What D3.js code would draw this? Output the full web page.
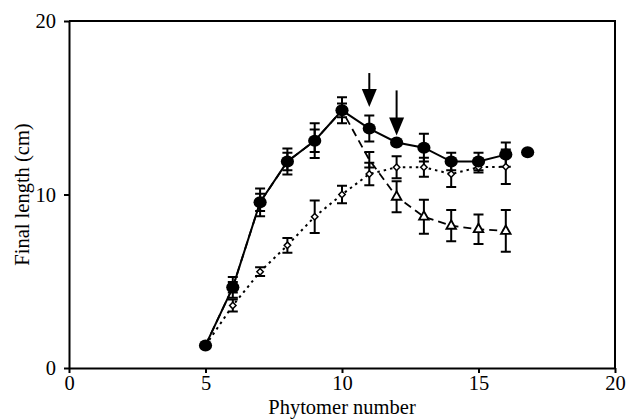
<!DOCTYPE html>
<html>
<head>
<meta charset="utf-8">
<script src="https://cdn.jsdelivr.net/npm/d3@7"></script>
<style>
  body { margin: 0; background: #fff; }
  text { font-family: "Liberation Serif", "Times New Roman", serif; }
</style>
</head>
<body>
<div id="chart"></div>
<script>
// Final length of each phytomer, three treatments with error bars.

// Data
const phytomer = [5, 6, 7, 8, 9, 10, 11, 12, 13, 14, 15, 16];
// filled circles, solid line
const circleLen = [1.3, 4.65, 9.55, 11.9, 13.1, 14.85, 13.8, 13.0, 12.7, 11.9, 11.9, 12.3];
const circleErr = [0, 0.6, 0.8, 0.75, 1.0, 0.75, 0.75, 0, 0.8, 0.5, 0.5, 0.7];
// open triangles, dashed line (same as circles up to 10)
const triangleLen = [1.3, 4.65, 9.55, 11.9, 13.1, 14.85, 12.0, 9.87, 8.72, 8.2, 8.0, 7.9];
const triangleErr = [0, 0.3, 0.5, 0.5, 0.65, 0.4, 0.45, 0.9, 0.98, 0.9, 0.85, 1.2];
// open diamonds, dotted line
const diamondLen = [1.3, 3.6, 5.55, 7.07, 8.72, 10.0, 11.18, 11.57, 11.57, 11.18, 11.57, 11.6];
const diamondErr = [0, 0.35, 0.25, 0.43, 0.94, 0.5, 0.65, 0.63, 0.55, 0.75, 0.3, 1.0];
// lone circle to the right of the series
const extraX = [16.8];
const extraY = [12.43];
// arrows
const arrowX = [11, 12];
const arrowTop = [17.0, 16.0];
const arrowTip = [15.05, 13.4];
// ticks
const xTicks = [0, 5, 10, 15, 20];
const yTicks = [0, 10, 20];

// Chart dimensions
const width = 628;
const height = 419;
const marginTop = 21;
const marginRight = 13;
const marginBottom = 51;
const marginLeft = 69;

const graph = d3.create("svg")
    .attr("width", width)
    .attr("height", height);

const xscale = d3.scaleLinear()
    .domain([0, 20])
    .range([marginLeft, width - marginRight]);

const yscale = d3.scaleLinear()
    .domain([0, 20])
    .range([height - marginBottom, marginTop]);

// frame (top and right)
graph.append("path")
    .attr("d", `M${xscale(0)},${yscale(20)}H${xscale(20)}V${yscale(0)}`)
    .attr("fill", "none")
    .attr("stroke", "#000")
    .attr("stroke-width", 2);

// x axis
const xAxis = graph.append("g")
    .attr("transform", `translate(0, ${yscale(0)})`)
    .call(d3.axisBottom(xscale).tickValues(xTicks).tickSize(5).tickPadding(2).tickSizeOuter(0));

// y axis
const yAxis = graph.append("g")
    .attr("transform", `translate(${xscale(0)},0)`)
    .call(d3.axisLeft(yscale).tickValues(yTicks).tickSize(5).tickPadding(8).tickSizeOuter(0));

for (const ax of [xAxis, yAxis]) {
    ax.select(".domain").attr("stroke-width", 2);
    ax.selectAll(".tick line").attr("stroke-width", 2);
    ax.selectAll(".tick text")
        .attr("font-size", 20.5)
        .attr("font-family", "Liberation Serif")
        .attr("fill", "#000");
}

// axis titles
graph.append("text")
    .attr("x", (xscale(0) + xscale(20)) / 2)
    .attr("y", 414)
    .attr("text-anchor", "middle")
    .attr("font-size", 20.5)
    .text("Phytomer number");

graph.append("text")
    .attr("transform", `translate(29, ${(yscale(0) + yscale(20)) / 2}) rotate(-90)`)
    .attr("text-anchor", "middle")
    .attr("font-size", 20.5)
    .text("Final length (cm)");

// Lines
const series = [
    { len: diamondLen, err: diamondErr, dash: "2.5,4", w: 2 },
    { len: triangleLen, err: triangleErr, dash: "8,5", w: 1.8 },
    { len: circleLen, err: circleErr, dash: null, w: 2 }
];

const lineGenerator = d3.line()
    .x(d => xscale(d[0]))
    .y(d => yscale(d[1]));

for (const s of series) {
    graph.append("path")
        .attr("fill", "none")
        .attr("stroke", "#000")
        .attr("stroke-width", s.w)
        .attr("stroke-dasharray", s.dash)
        .attr("d", lineGenerator(phytomer.map((x, i) => [x, s.len[i]])));
}

// Error bars
const cap = 5;
for (const s of series) {
    phytomer.forEach((x, i) => {
        if (!s.err[i]) return;
        const cx = xscale(x);
        const y1 = yscale(s.len[i] + s.err[i]);
        const y2 = yscale(s.len[i] - s.err[i]);
        graph.append("path")
            .attr("d", `M${cx},${y1}V${y2}M${cx - cap},${y1}H${cx + cap}M${cx - cap},${y2}H${cx + cap}`)
            .attr("fill", "none")
            .attr("stroke", "#000")
            .attr("stroke-width", 2);
    });
}

// Markers: diamonds
graph.selectAll(".diamond")
    .data(phytomer.map((x, i) => [x, diamondLen[i]]))
    .join("path")
    .attr("class", "diamond")
    .attr("d", d => {
        const cx = xscale(d[0]), cy = yscale(d[1]);
        return `M${cx},${cy - 3.2}L${cx + 3.2},${cy}L${cx},${cy + 3.2}L${cx - 3.2},${cy}Z`;
    })
    .attr("fill", "#fff")
    .attr("stroke", "#000")
    .attr("stroke-width", 1.5);

// Markers: triangles (those at 5-11 are hidden under other marks in the original)
graph.selectAll(".triangle")
    .data(phytomer.map((x, i) => [x, triangleLen[i]]).filter(d => d[0] > 11))
    .join("path")
    .attr("class", "triangle")
    .attr("d", d => {
        const cx = xscale(d[0]), cy = yscale(d[1]);
        return `M${cx},${cy - 5.5}L${cx + 4.8},${cy + 3}L${cx - 4.8},${cy + 3}Z`;
    })
    .attr("fill", "#fff")
    .attr("stroke", "#000")
    .attr("stroke-width", 1.8);

// Markers: circles
graph.selectAll(".circle")
    .data(phytomer.map((x, i) => [x, circleLen[i]]).concat(extraX.map((x, i) => [x, extraY[i]])))
    .join("ellipse")
    .attr("class", "circle")
    .attr("cx", d => xscale(d[0]))
    .attr("cy", d => yscale(d[1]))
    .attr("rx", 6.6)
    .attr("ry", 6)
    .attr("fill", "#000");

// Arrows
arrowX.forEach((x, i) => {
    const ax = xscale(x);
    const top = yscale(arrowTop[i]);
    const tip = yscale(arrowTip[i]);
    graph.append("line")
        .attr("x1", ax).attr("x2", ax)
        .attr("y1", top).attr("y2", tip - 10)
        .attr("stroke", "#000")
        .attr("stroke-width", 2);
    graph.append("path")
        .attr("d", `M${ax - 7.5},${tip - 18}L${ax + 7.5},${tip - 18}L${ax},${tip}Z`)
        .attr("fill", "#000");
});

document.getElementById("chart").append(graph.node());
</script>
</body>
</html>
